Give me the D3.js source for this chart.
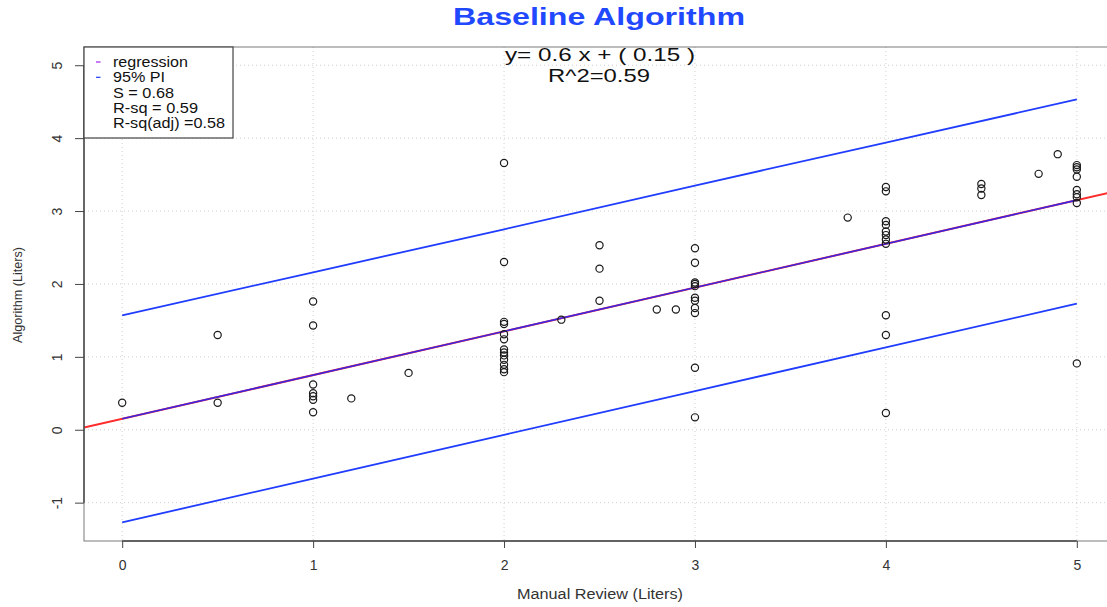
<!DOCTYPE html>
<html><head><meta charset="utf-8">
<script src="https://cdn.jsdelivr.net/npm/d3@7"></script>
<style>body{margin:0;background:#fff}text{font-family:"Liberation Sans",Arial,sans-serif}</style>
</head><body><svg id="chart" width="1107" height="607"></svg>
<script>
// ---- data ----
const xTicks = [0, 1, 2, 3, 4, 5];
const yTicks = [-1, 0, 1, 2, 3, 4, 5];
const manual = [
  0,
  0.5, 0.5,
  1, 1, 1, 1, 1, 1, 1,
  1.2, 1.5,
  2, 2, 2, 2, 2, 2, 2, 2, 2, 2, 2, 2, 2,
  2.3,
  2.5, 2.5, 2.5,
  2.8, 2.9,
  3, 3, 3, 3, 3, 3, 3, 3, 3, 3, 3,
  3.8,
  4, 4, 4, 4, 4, 4, 4, 4, 4, 4, 4,
  4.5, 4.5, 4.5,
  4.8, 4.9,
  5, 5, 5, 5, 5, 5, 5, 5, 5
];
const algorithm = [
  0.37,
  1.30, 0.37,
  1.76, 1.43, 0.62, 0.50, 0.46, 0.41, 0.24,
  0.43, 0.78,
  3.66, 2.30, 1.48, 1.45, 1.31, 1.24, 1.10, 1.06, 1.02, 0.96, 0.89, 0.83, 0.79,
  1.51,
  2.53, 2.21, 1.77,
  1.65, 1.65,
  2.49, 2.29, 2.02, 2.00, 1.97, 1.81, 1.77, 1.67, 1.60, 0.85, 0.17,
  2.91,
  3.33, 3.27, 2.86, 2.81, 2.72, 2.67, 2.61, 2.55, 1.57, 1.30, 0.23,
  3.37, 3.31, 3.22,
  3.51, 3.78,
  3.63, 3.60, 3.57, 3.47, 3.29, 3.23, 3.19, 3.11, 0.91
];
const fitSlope = 0.6;
const fitIntercept = 0.15;
const piX = [0, 1, 2, 3, 4, 5];
const piUpper = [1.57, 2.16, 2.75, 3.35, 3.94, 4.53];
const piLower = [-1.27, -0.67, -0.07, 0.53, 1.13, 1.73];
const legendLabels = ["regression", "95% PI", "S = 0.68", "R-sq = 0.59", "R-sq(adj) =0.58"];
const titleText = "Baseline Algorithm";
const eqText = "y= 0.6 x + ( 0.15 )";
const r2Text = "R^2=0.59";
const xTitle = "Manual Review (Liters)";
const yTitle = "Algorithm (Liters)";

// ---- layout ----
const svg = d3.select("#chart");
const L = 84, R = 1115, T = 47, B = 541;
const x = d3.scaleLinear().domain([-0.2, 5.2]).range([L, R]);
const y = d3.scaleLinear().domain([-1.526, 5.25]).range([B, T]);

svg.append("defs").append("clipPath").attr("id", "clip")
  .append("rect").attr("x", L).attr("y", T).attr("width", R - L).attr("height", B - T);

// grid
const grid = svg.append("g").attr("stroke", "#cfcfcf").attr("stroke-dasharray", "1,3").attr("stroke-width", 1);
grid.selectAll(".gx").data(xTicks).join("line")
  .attr("x1", d => x(d)).attr("x2", d => x(d)).attr("y1", T).attr("y2", B);
grid.selectAll(".gy").data(yTicks).join("line")
  .attr("x1", L).attr("x2", R).attr("y1", d => y(d)).attr("y2", d => y(d));

// lines
const plot = svg.append("g").attr("clip-path", "url(#clip)");
const line = d3.line().x(d => x(d[0])).y(d => y(d[1]));
const xDom = x.domain();
plot.append("path")
  .attr("d", line(xDom.map(v => [v, fitIntercept + fitSlope * v])))
  .attr("stroke", "#ff2a2a").attr("stroke-width", 2).attr("fill", "none");
plot.append("path")
  .attr("d", line([0, 5].map(v => [v, fitIntercept + fitSlope * v])))
  .attr("stroke", "#3d25e0").attr("stroke-width", 1.6).attr("fill", "none");

[piUpper, piLower].forEach(arr => {
  const pts = piX.map((v, i) => [v, arr[i]]);
  plot.append("path").attr("d", line(pts))
    .attr("stroke", "#1f3cff").attr("stroke-width", 1.8).attr("fill", "none");
});

// points
plot.selectAll("circle.pt").data(manual.map((m, i) => [m, algorithm[i]])).join("circle")
  .attr("cx", d => x(d[0])).attr("cy", d => y(d[1])).attr("r", 3.6)
  .attr("fill", "none").attr("stroke", "#1a1a1a").attr("stroke-width", 1.2);

// box
svg.append("rect").attr("x", L).attr("y", T).attr("width", R - L).attr("height", B - T)
  .attr("fill", "none").attr("stroke", "#7a7a7a").attr("stroke-width", 1);

// y axis
const ya = svg.append("g").attr("transform", `translate(${L},0)`)
  .call(d3.axisLeft(y).tickValues(yTicks).tickSize(9).tickFormat(d => String(d)));
ya.select(".domain").remove();
ya.selectAll("line").attr("stroke", "#444");
ya.selectAll("text").attr("x", 0).attr("dy", null)
  .attr("transform", "translate(-22,0) rotate(-90)")
  .attr("text-anchor", "middle").attr("fill", "#333")
  .style("font-size", "14px").style("font-family", "Liberation Sans, Arial, sans-serif");
svg.append("line").attr("x1", L).attr("x2", L).attr("y1", y(5)).attr("y2", y(-1))
  .attr("stroke", "#444").attr("stroke-width", 1.4);

// x axis
const xa = svg.append("g").attr("transform", `translate(0,${B})`)
  .call(d3.axisBottom(x).tickValues(xTicks).tickSize(7).tickFormat(d => String(d)));
xa.select(".domain").remove();
xa.selectAll("line").attr("stroke", "#444");
xa.selectAll("text").attr("y", 29).attr("dy", null).attr("fill", "#333")
  .style("font-size", "14px").style("font-family", "Liberation Sans, Arial, sans-serif");
svg.append("line").attr("x1", x(0)).attr("x2", x(5)).attr("y1", B).attr("y2", B)
  .attr("stroke", "#444").attr("stroke-width", 1.4);

// axis titles
svg.append("text").attr("x", 600).attr("y", 599).attr("text-anchor", "middle")
  .attr("fill", "#333").style("font-size", "14px")
  .attr("textLength", 166).attr("lengthAdjust", "spacingAndGlyphs").text(xTitle);
svg.append("text").attr("transform", "translate(22,295) rotate(-90)").attr("text-anchor", "middle")
  .attr("fill", "#333").style("font-size", "13px")
  .attr("textLength", 96).attr("lengthAdjust", "spacingAndGlyphs").text(yTitle);

// title & equation
svg.append("text").attr("x", 599).attr("y", 25).attr("text-anchor", "middle")
  .attr("fill", "#1f48ff").style("font-size", "23px").style("font-weight", "bold")
  .attr("textLength", 292).attr("lengthAdjust", "spacingAndGlyphs").text(titleText);
svg.append("text").attr("x", 600).attr("y", 61).attr("text-anchor", "middle")
  .attr("fill", "#111").style("font-size", "18px")
  .attr("textLength", 190).attr("lengthAdjust", "spacingAndGlyphs").text(eqText);
svg.append("text").attr("x", 599).attr("y", 82).attr("text-anchor", "middle")
  .attr("fill", "#111").style("font-size", "18px")
  .attr("textLength", 102).attr("lengthAdjust", "spacingAndGlyphs").text(r2Text);

// legend
const lg = svg.append("g");
lg.append("rect").attr("x", L).attr("y", T).attr("width", 149).attr("height", 91)
  .attr("fill", "#fff").attr("stroke", "#444").attr("stroke-width", 1.2);
const legendColors = ["#a020f0", "#1f3cff", null, null, null];
const legendWidths = [75, 52, 61, 85, 112];
legendLabels.forEach((lab, i) => {
  const by = 67 + i * 15.3;
  if (legendColors[i]) {
    lg.append("line").attr("x1", 96).attr("x2", 100.5).attr("y1", by - 5).attr("y2", by - 5)
      .attr("stroke", legendColors[i]).attr("stroke-width", 1.2);
  }
  lg.append("text").attr("x", 113).attr("y", by).attr("fill", "#111")
    .style("font-size", "14px")
    .attr("textLength", legendWidths[i]).attr("lengthAdjust", "spacingAndGlyphs").text(lab);
});
</script></body></html>
